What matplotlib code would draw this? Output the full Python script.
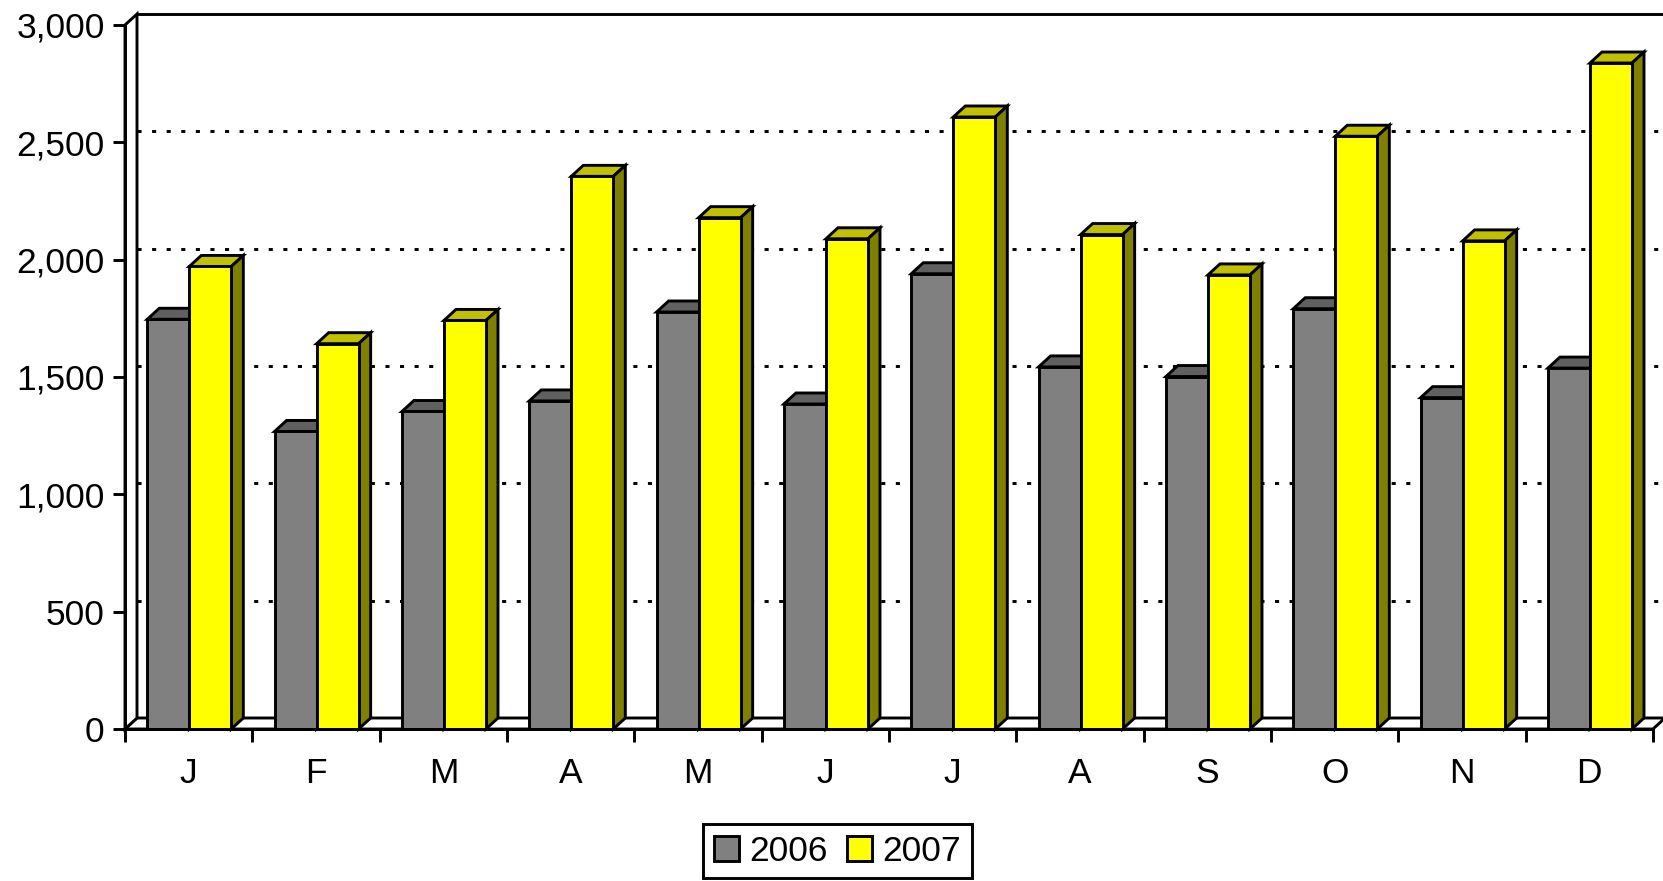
import matplotlib
matplotlib.use("Agg")
import matplotlib.pyplot as plt
from matplotlib.patches import Polygon, Patch
from matplotlib.ticker import FuncFormatter

plt.rcParams['font.family'] = ['Liberation Sans', 'DejaVu Sans']

months = ['J', 'F', 'M', 'A', 'M', 'J', 'J', 'A', 'S', 'O', 'N', 'D']
sales_2006 = [1746, 1268, 1353, 1398, 1777, 1385, 1940, 1543, 1502, 1791, 1412, 1538]
sales_2007 = [1971, 1642, 1741, 2355, 2179, 2089, 2608, 2107, 1935, 2526, 2080, 2838]
series_names = ['2006', '2007']

# colours: front, top, side
gray = ('#808080', '#606060', '#404040')
yellow = ('#ffff00', '#c0c000', '#808000')

W, H = 1663, 881
fig = plt.figure(figsize=(W / 100, H / 100), dpi=100)
# axes box in pixels: x 125..1653, y 729 (0) .. 25 (3000)
ax = fig.add_axes([125 / W, (H - 729) / H, 1528 / W, 704 / H])
ax.set_xlim(0, 12)
ax.set_ylim(0, 3000)
ax.patch.set_visible(False)

# 3d depth offset in data units
dx = 12 / (1528 / 12)
dy = 11 / (704 / 3000)
ymax = 3000
n = len(months)
lw = 2.1

# back wall
ax.add_patch(Polygon([(dx, dy), (n + dx + 1, dy), (n + dx + 1, ymax + dy), (dx, ymax + dy)],
                     closed=True, fc='white', ec='none', zorder=0, clip_on=False))
ax.plot([dx, n + dx + 1], [ymax + dy, ymax + dy], color='black', lw=lw, zorder=1, clip_on=False)
for v in range(500, 3000, 500):
    ax.plot([dx, n + dx + 1], [v + dy, v + dy], color='black', lw=2.1,
            linestyle=(0, (1.4, 3.6)), zorder=1, clip_on=False)

# floor
ax.add_patch(Polygon([(0, 0), (n, 0), (n + dx, dy), (dx, dy)], closed=True,
                     fc='white', ec='black', lw=lw, zorder=2, clip_on=False))
# left wall
ax.add_patch(Polygon([(0, 0), (dx, dy), (dx, ymax + dy), (0, ymax)], closed=True,
                     fc='white', ec='black', lw=lw, zorder=2, clip_on=False))


def bar3d(x, w, v, cols, z):
    ax.bar(x, v, width=w, align='edge', color=cols[0], edgecolor='black',
           linewidth=lw, zorder=z + 0.2, clip_on=False)
    ax.add_patch(Polygon([(x, v), (x + w, v), (x + w + dx, v + dy), (x + dx, v + dy)],
                         closed=True, fc=cols[1], ec='black', lw=lw, zorder=z, clip_on=False))
    ax.add_patch(Polygon([(x + w, 0), (x + w + dx, dy), (x + w + dx, v + dy), (x + w, v)],
                         closed=True, fc=cols[2], ec='black', lw=lw, zorder=z, clip_on=False))


bw = 0.33
for i in range(n):
    bar3d(i + 0.175, bw, sales_2006[i], gray, 3 + i)
    bar3d(i + 0.505, bw, sales_2007[i], yellow, 3.5 + i)

for s in ['top', 'right']:
    ax.spines[s].set_visible(False)
for s in ['left', 'bottom']:
    ax.spines[s].set_linewidth(lw)
    ax.spines[s].set_zorder(30)

ax.set_yticks(range(0, 3001, 500))
ax.yaxis.set_major_formatter(FuncFormatter(lambda v, p: f'{int(v):,}'))
ax.tick_params(axis='y', direction='out', length=8.6, width=lw, pad=6, labelsize=25.5)
ax.set_xticks(range(n + 1))
ax.set_xticklabels([])
ax.tick_params(axis='x', which='major', direction='out', length=9.5, width=lw)
ax.set_xticks([i + 0.5 for i in range(n)], minor=True)
ax.set_xticklabels(months, minor=True)
ax.tick_params(axis='x', which='minor', length=0, pad=20, labelsize=25.5)

handles = [Patch(fc=gray[0], ec='black', lw=lw), Patch(fc=yellow[0], ec='black', lw=lw)]
leg = fig.legend(handles, series_names, loc='upper center',
                 bbox_to_anchor=(837.5 / W, 1 - 824 / H), ncol=2, fontsize=25.5,
                 frameon=True, fancybox=False, edgecolor='black', framealpha=1,
                 handlelength=0.7, handleheight=0.7, handletextpad=0.3,
                 columnspacing=0.55, borderpad=0.3, borderaxespad=0)
leg.get_frame().set_linewidth(lw)

fig.savefig('out.png', dpi=100)
